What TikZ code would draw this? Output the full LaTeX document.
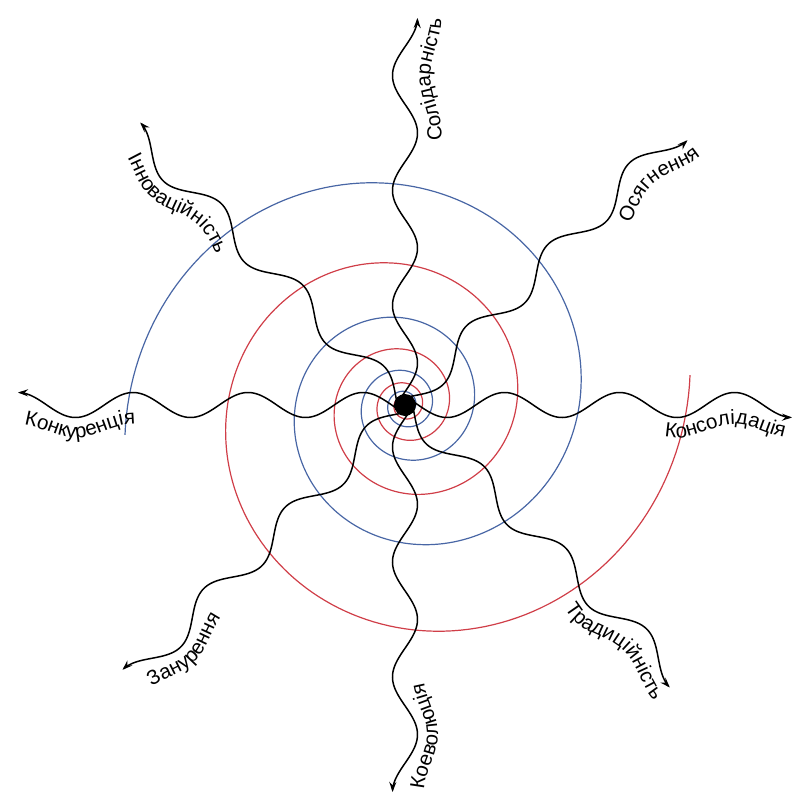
\documentclass[tikz,border=0pt]{standalone}
\usepackage{fontspec}
\setmainfont{Liberation Sans}
\usetikzlibrary{decorations.text,arrows.meta}
\definecolor{spblue}{RGB}{72,102,165}
\definecolor{spred}{RGB}{208,62,72}
\newcommand\lblfont{\fontsize{20.5}{21}\selectfont}
% #1 angle, #2 outer end (s), #3 baseline offset, #4 follow factor, #5 text
% label reading outward (text on the right of the outward wave)
\newcommand\labout[5]{%
  \path[decorate,decoration={text along path,text align={right},
      text={|\lblfont|#5}}]
    plot[domain=150:#2,samples=150]
    ({\x*cos(#1)+(#3+#4*nw(\x))*sin(#1)},{\x*sin(#1)-(#3+#4*nw(\x))*cos(#1)});}
% label reading inward (text on the left of the outward wave)
\newcommand\labin[5]{%
  \path[decorate,decoration={text along path,text align={left},
      text={|\lblfont|#5}}]
    plot[domain=0:#2-150,samples=150]
    ({(#2-\x)*cos(#1)+(-#3+#4*nw(#2-\x))*sin(#1)},{(#2-\x)*sin(#1)-(-#3+#4*nw(#2-\x))*cos(#1)});}
\begin{document}
\begin{tikzpicture}[x=1pt,y=1pt,
  declare function={nw(\s)=12.5*cos(3.130435*(\s-42));
                    rr(\t)=exp(-0.002583*\t);},
  wave/.style={line width=1.5pt,-{Stealth[length=10pt,width=7pt]}},
  spiral/.style={line width=1.2pt},
  hubstyle/.style={circle,fill=black,minimum size=22pt,inner sep=0pt}]
\useasboundingbox (-405,-391) rectangle (390,405);
% spirals
\draw[spiral,spred] plot[domain=0:1400,samples=700]
  ({286.6*rr(\x)*cos(6-\x)},{286.6*rr(\x)*sin(6-\x)});
\draw[spiral,spblue] plot[domain=0:1400,samples=700]
  ({281.6*rr(\x)*cos(186.1-\x)},{281.6*rr(\x)*sin(186.1-\x)});
% waves
\foreach \a in {0,45,...,315}{
  \draw[wave] plot[domain=0:387,samples=220]
    ({\x*cos(\a)+nw(\x)*sin(\a)},{\x*sin(\a)-nw(\x)*cos(\a)});
}
% hub
\node[hubstyle] (hub) at (0,0) {};
% labels
\labout{90}{386}{31}{0.45}{Солідарність}
\labout{45}{385}{26}{0.55}{Осягнення}
\labout{0}{379}{26}{0.55}{Консолідація}
\labout{-45}{385}{26}{0.55}{Традиційність}
\labin{135}{371}{26}{0.55}{Інноваційність}
\labin{180}{381}{26}{0.55}{Конкуренція}
\labin{-135}{378}{26}{0.55}{Занурення}
\labin{-90}{385}{26}{0.55}{Коеволюція}
\end{tikzpicture}
\end{document}
